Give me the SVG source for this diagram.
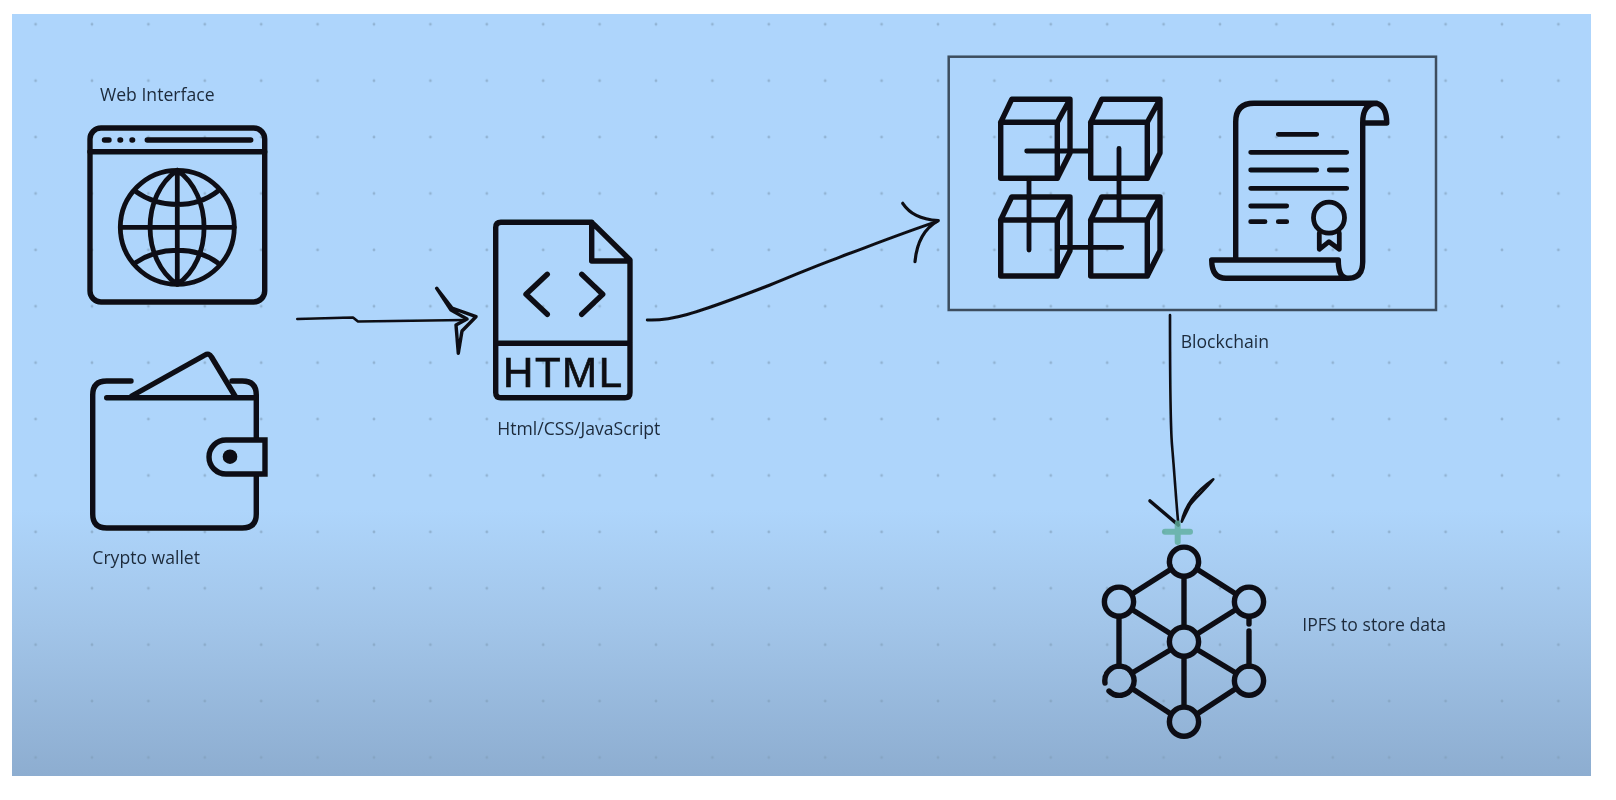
<svg xmlns="http://www.w3.org/2000/svg" width="1616" height="800" viewBox="0 0 1616 800">
<style>
.ic{fill:none;stroke:#0c0f12;stroke-width:5.4;stroke-linecap:round;stroke-linejoin:round}
.th{stroke-width:4.8}
.ink{fill:none;stroke:#0c0f12;stroke-width:2.6;stroke-linecap:round;stroke-linejoin:round}
.lb{font-family:"Open Sans","Liberation Sans",sans-serif;font-size:17.6px;fill:#1c2a3a}
.ht{font-family:"Liberation Sans",Arial,sans-serif;font-size:42px;fill:#0c0f12;stroke:#0c0f12;stroke-width:.7}
</style>
<defs>
<linearGradient id="bg" x1="0" y1="14" x2="0" y2="776" gradientUnits="userSpaceOnUse">
<stop offset="0" stop-color="#aed5fc"/>
<stop offset=".65" stop-color="#aed5fb"/>
<stop offset=".8" stop-color="#a2c5e9"/>
<stop offset="1" stop-color="#8dadd0"/>
</linearGradient>
<pattern id="dots" x="35.6" y="24.3" width="56.4" height="56.4" patternUnits="userSpaceOnUse">
<circle cx="0" cy="0" r="1.4" fill="#7f9cb8" opacity=".6"/><circle cx="56.4" cy="0" r="1.4" fill="#7f9cb8" opacity=".6"/><circle cx="0" cy="56.4" r="1.4" fill="#7f9cb8" opacity=".6"/><circle cx="56.4" cy="56.4" r="1.4" fill="#7f9cb8" opacity=".6"/>
</pattern>
<filter id="soft" x="-2%" y="-2%" width="104%" height="104%"><feGaussianBlur stdDeviation=".7"/></filter>
<g id="cube"><path class="ic" d="M1000.700 122.300H1057.300V178.300H1000.700ZM1000.700 122.300L1011.700 99.300H1070L1057.300 122.300M1070 99.300V153L1057.300 178.300"/></g>
<circle id="nd" r="14.600" class="ic"/>
</defs>
<rect width="1616" height="800" fill="#fff"/>
<rect x="12" y="14" width="1579" height="762" fill="url(#bg)"/>
<rect x="12" y="14" width="1579" height="762" fill="url(#dots)"/>
<g filter="url(#soft)">
<g id="web-interface">
<rect class="ic" x="90" y="128" width="174.700" height="174" rx="11"/>
<path class="ic" d="M104.500 140H109M120 140H120.600M132 140H132.600M147.300 140H250.700M90 151.700H264.700"/>
<circle class="ic th" cx="177.300" cy="227.300" r="57"/>
<path class="ic th" d="M177.300 170.300V284.300M120.300 227.300H234.300M177.300 170.300C141 195 141 260 177.300 284.300M177.300 170.300C213 195 213 260 177.300 284.300M135 191C160 209 195 209 218 191M135 263C160 246 195 246 218 263"/>
<text class="lb" x="100" y="100.700">Web Interface</text>
</g>
<g id="crypto-wallet">
<path class="ic" d="M131 381H106.700Q92.700 381 92.700 395V514Q92.700 528 106.700 528H242.300Q256.300 528 256.300 514V395Q256.300 381 242.300 381H232"/>
<path class="ic" d="M106.700 397.700H254M131.700 396L205 355Q209 352.500 211.500 357L235 396"/>
<path d="M265 440H226A17 17 0 0 0 226 474H265Z" fill="#aed5fb" stroke="#0c0f12" stroke-width="5.400"/>
<circle cx="230" cy="456.700" r="7.300" fill="#0c0f12"/>
<text class="lb" x="92.300" y="564">Crypto wallet</text>
</g>
<g id="html-file">
<path class="ic" d="M591.700 222.300H501Q495.700 222.300 495.700 227.600V392.400Q495.700 397.700 501 397.700H624.700Q630 397.700 630 392.400V260ZM591.700 222.300V261H630M495.700 343.300H630"/>
<path class="ic" d="M547.300 274.300L526 294.300L547.300 314.300M581.700 274.300L602.700 294.300L581.700 314.300"/>
<text class="ht" x="503" y="386.700" textLength="119">HTML</text>
<text class="lb" x="497.300" y="435">Html/CSS/JavaScript</text>
</g>
<g id="blockchain">
<rect x="948.700" y="56.700" width="487.300" height="253.300" fill="none" stroke="#3c4e5e" stroke-width="2.500"/>
<use href="#cube"/><use href="#cube" x="90"/><use href="#cube" y="97.700"/><use href="#cube" x="90" y="97.700"/>
<path class="ic th" d="M1026.700 151H1090M1119 148.300V218.300M1058 247.300H1121.700M1029 180V250"/>
<path class="ic" d="M1235.700 260V122Q1235.700 103.300 1254 103.300H1376.700Q1386.700 106 1386.700 123H1362.700M1376.700 103.300Q1362.700 103.300 1362.700 123V262Q1362.700 278.300 1348 278.300Q1338.300 278.300 1338.300 260H1211.700Q1211.700 278.300 1226 278.300H1348"/>
<path class="ic th" d="M1278.300 134.300H1316.700M1250.700 152.300H1346.700M1250.700 170H1316.700M1329.300 170H1346.700M1250.700 188.300H1346.700M1250.700 206H1286.700M1250.700 221.700H1265M1278.300 221.700H1286.700"/>
<circle class="ic th" cx="1329" cy="217.700" r="15.500"/>
<path class="ic th" d="M1319.300 233V249.300L1329 241.700L1339.300 249.300V233"/>
<text class="lb" x="1180.700" y="348">Blockchain</text>
</g>
<g id="ipfs">
<path class="ic" d="M1170.500 569.500L1132 594M1197.500 569.500L1236 594M1184 577V626.500M1132 609.500L1171 634M1236 609.500L1197 634M1171 649.500L1132 673M1197 649.500L1236 673M1184 657V706.500M1132 688.500L1171 714M1236 688.500L1197 714M1119 616.500V666M1249 616.700V624M1249 631V666"/>
<use href="#nd" x="1184" y="561.700"/><use href="#nd" x="1119" y="601.700"/><use href="#nd" x="1249" y="601.700"/><use href="#nd" x="1184" y="641.700"/><use href="#nd" x="1249" y="680.700"/><use href="#nd" x="1184" y="721.700"/>
<path class="ic" d="M1105 683A14.600 14.600 0 1 1 1109 691"/>
<text class="lb" x="1302.300" y="631">IPFS to store data</text>
</g>
<g id="connectors">
<path class="ink" d="M297.300 319L353 317.500L358 321.500L465 320"/>
<path class="ink" style="stroke-width:3.400" d="M436.700 288.300L452 308L476 316.700L462 331L458.300 353.300L456 325L467 319L451 310Z"/>
<path class="ink" style="stroke-width:3" d="M647.300 320C670 321 690 316 770 285C800 273 810 268 836.700 258.300C870 246 900 234 936.700 221.700"/>
<path class="ink" style="stroke-width:3.200" d="M902.700 203.300C910 214 920 219 938.300 220.700C925 228 917 240 915 261.700"/>
<path class="ink" d="M1170 315C1170 380 1170 420 1172 445C1175 480 1176 500 1178.300 524"/>
<path class="ink" style="stroke-width:3.600" d="M1150 501L1178.300 525"/>
<path class="ink" d="M1213.300 479.300C1205 490 1195 498 1190 505L1181.700 521.700C1185 505 1198 490 1213.300 479.300Z"/>
<path d="M1165 531.700H1190M1177.700 523.500V542" fill="none" stroke="#5fae9c" stroke-width="6" stroke-linecap="round" opacity=".8"/>
</g>
</g>
</svg>
